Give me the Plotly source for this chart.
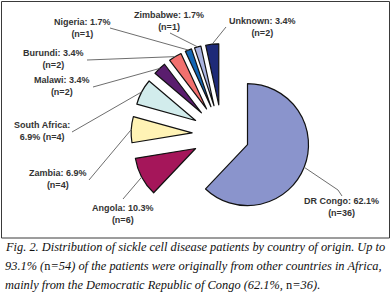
import math
import plotly.graph_objects as go

# ---- data ----
countries = ["DR Congo", "Angola", "Zambia", "South Africa", "Malawi",
             "Burundi", "Nigeria", "Zimbabwe", "Unknown"]
counts = [36, 6, 4, 4, 2, 2, 1, 1, 2]
percent_labels = ["62.1%", "10.3%", "6.9%", "6.9%", "3.4%", "3.4%", "1.7%", "1.7%", "3.4%"]
colors = ["#8a94cc", "#a5165a", "#fff3b5", "#d2ecec", "#5a1d6e",
          "#f2706e", "#1265b4", "#a9b3e0", "#1e2a78"]
pulls = [0.45, 0.49, 0.49, 0.49, 0.49, 0.49, 0.49, 0.49, 0.49]

# label text layout (line breaks as in original)
label_texts = [
    "DR Congo: 62.1%<br>(n=36)",
    "Angola: 10.3%<br>(n=6)",
    "Zambia: 6.9%<br>(n=4)",
    "South Africa:<br>6.9% (n=4)",
    "Malawi: 3.4%<br>(n=2)",
    "Burundi: 3.4%<br>(n=2)",
    "Nigeria: 1.7%<br>(n=1)",
    "Zimbabwe: 1.7%<br>(n=1)",
    "Unknown: 3.4%<br>(n=2)",
]
# label centers (pixels) and leader line start near label (pixels)
label_pos = [(341, 207), (123, 214), (58, 179), (42, 131), (62, 86),
             (54, 59), (82, 28), (169, 21), (262, 27)]
leader_start = [[(342, 196), (338, 190)], [(123, 199)], [(89, 180)], [(72, 132)], [(93, 87)],
                [(87, 60)], [(110, 28)], [(170, 33)], [(226, 27)]]

caption_lines = [
    "<i>Fig. 2. Distribution of sickle cell disease patients by country of origin. Up to</i>",
    "<i>93.1% (</i>n<i>=54) of the patients were originally from other countries in Africa,</i>",
    "<i>mainly from the Democratic Republic of Congo (62.1%, </i>n<i>=36).</i>",
]

# ---- layout geometry ----
W, H = 391, 297
CX, CY, R = 222.0, 134.5, 61.0
half = R * (1 + max(pulls))
dom_x = [(CX - half) / W, (CX + half) / W]
dom_y = [1 - (CY + half) / H, 1 - (CY - half) / H]

fig = go.Figure(go.Pie(
    values=counts, labels=countries, sort=False, direction="clockwise",
    rotation=0, pull=pulls, textinfo="none", hoverinfo="label+percent",
    marker=dict(colors=colors, line=dict(color="#111111", width=1.2)),
    domain=dict(x=dom_x, y=dom_y), showlegend=False,
))

def px2paper(p):
    return p[0] / W, 1 - p[1] / H

total = sum(counts)
cum = 0
shapes = []
annotations = []
for i, v in enumerate(counts):
    a0 = cum / total * 2 * math.pi
    cum += v
    a1 = cum / total * 2 * math.pi
    mid = (a0 + a1) / 2
    dist = R * (1 + pulls[i])
    edge = (CX + dist * math.sin(mid), CY - dist * math.cos(mid))
    pts = leader_start[i] + [edge]
    for p, q in zip(pts[:-1], pts[1:]):
        x0, y0 = px2paper(p)
        x1, y1 = px2paper(q)
        shapes.append(dict(type="line", xref="paper", yref="paper",
                           x0=x0, y0=y0, x1=x1, y1=y1,
                           line=dict(color="#6e6e6e", width=1)))
    lx, ly = px2paper(label_pos[i])
    annotations.append(dict(x=lx, y=ly, xref="paper", yref="paper",
                            text=label_texts[i], showarrow=False,
                            xanchor="center", yanchor="middle",
                            font=dict(family="Liberation Sans, Arial", size=9, color="#333333",
                                      weight="bold")))

# border
shapes.append(dict(type="rect", xref="paper", yref="paper",
                   x0=1.5 / W, x1=389.5 / W, y0=1 - 238 / H, y1=1 - 1.5 / H,
                   line=dict(color="#3a3a3a", width=1)))

cap_y = [247, 266, 285]
for t, yy in zip(caption_lines, cap_y):
    annotations.append(dict(x=3 / W, y=1 - yy / H, xref="paper", yref="paper",
                            text=t, showarrow=False, xanchor="left", yanchor="middle",
                            font=dict(family="Liberation Serif, serif", size=12.4, color="#111111")))

fig.update_layout(
    width=W, height=H, margin=dict(l=0, r=0, t=0, b=0),
    paper_bgcolor="white", plot_bgcolor="white",
    shapes=shapes, annotations=annotations,
)

fig.write_html("out.html", config={"displayModeBar": False},
               post_script="document.body.style.margin='0';document.body.style.overflow='hidden';")
